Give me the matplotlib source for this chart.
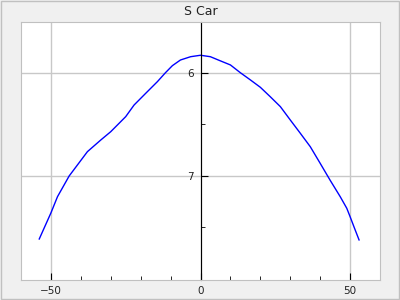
import matplotlib
matplotlib.use("Agg")
import matplotlib.pyplot as plt
from matplotlib.patches import Rectangle
from matplotlib.ticker import MultipleLocator, FixedLocator

# curve
x = [-53.9, -50.0, -47.8, -43.9, -37.8, -33.3, -30.0, -25.0, -22.2,
     -18.3, -14.4, -11.7, -9.4, -6.7, -3.3, 0.0,
     3.3, 6.7, 10.0, 13.3, 16.7, 20.0, 23.3, 26.7, 30.0, 33.3, 36.7,
     40.0, 43.3, 46.7, 48.9, 50.0, 51.7, 53.0]
y = [7.612, 7.359, 7.201, 7.000, 6.764, 6.650, 6.570, 6.424, 6.311,
     6.197, 6.084, 5.997, 5.929, 5.874, 5.842, 5.828,
     5.842, 5.883, 5.922, 5.997, 6.068, 6.139, 6.230, 6.327, 6.456, 6.583, 6.716,
     6.877, 7.040, 7.201, 7.314, 7.395, 7.524, 7.621]
title = "S Car"

fig = plt.figure(figsize=(4, 3), dpi=100, facecolor="#f0f0f0")
fig.patches.append(Rectangle((0.002, 0.003), 0.995, 0.993, transform=fig.transFigure,
                             fill=False, edgecolor="#c0c0c0", linewidth=1))
ax = fig.add_axes([0.0525, 0.0667, 0.8975, 0.86])
ax.plot(x, y, color="blue", linewidth=1)

ax.set_xlim(-60, 60)
ax.set_ylim(8.01, 5.505)

ax.xaxis.set_major_locator(MultipleLocator(50))
ax.xaxis.set_minor_locator(MultipleLocator(10))
ax.yaxis.set_major_locator(FixedLocator([6, 7]))
ax.yaxis.set_minor_locator(FixedLocator([6.5, 7.5]))
ax.grid(True, which="major", color="#c8c8c8", linewidth=1)

for s in ["top", "right", "bottom"]:
    ax.spines[s].set_color("#c0c0c0")
ax.spines["left"].set_position(("data", 0))
ax.spines["left"].set_color("black")
ax.plot([0, 0], [0, 1], transform=ax.transAxes, color="#c0c0c0",
        linewidth=0.8, clip_on=False)

ax.tick_params(axis="both", which="both", direction="in", colors="black",
               labelcolor="#222222", labelsize=7.5)
ax.tick_params(axis="both", which="major", length=5)
ax.tick_params(axis="both", which="minor", length=3)
ax.tick_params(axis="x", pad=4)
ax.tick_params(axis="y", pad=5)

ax.set_title(title, fontsize=9, color="#222222", pad=5)

fig.savefig("out.png", dpi=100, facecolor=fig.get_facecolor())
